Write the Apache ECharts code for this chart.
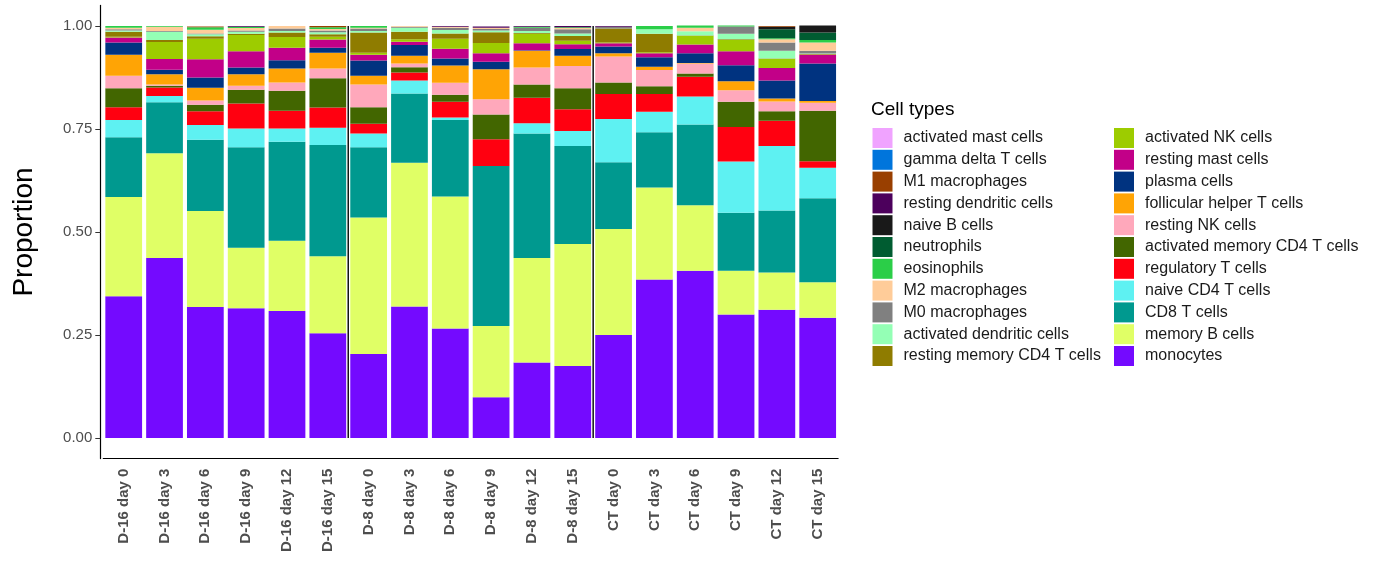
<!DOCTYPE html>
<html>
<head>
<meta charset="utf-8">
<script src="https://cdn.jsdelivr.net/npm/echarts@6/dist/echarts.min.js"></script>
<style>
html,body{margin:0;padding:0;background:#fff;}
#chart{width:1377px;height:564px;}
</style>
</head>
<body>
<div id="chart"></div>
<script>
// ---- categories ----
const samples = ["D-16 day 0","D-16 day 3","D-16 day 6","D-16 day 9","D-16 day 12","D-16 day 15",
  "D-8 day 0","D-8 day 3","D-8 day 6","D-8 day 9","D-8 day 12","D-8 day 15",
  "CT day 0","CT day 3","CT day 6","CT day 9","CT day 12","CT day 15"];

// ---- proportions per cell type (one value per sample) ----
const monocytes      = [0.344,0.437,0.318,0.315,0.308,0.254,0.204,0.319,0.266,0.099,0.183,0.175,0.250,0.385,0.406,0.300,0.311,0.292];
const memoryBCells   = [0.241,0.254,0.233,0.147,0.171,0.187,0.331,0.349,0.320,0.173,0.254,0.296,0.257,0.223,0.159,0.106,0.091,0.086];
const cd8TCells      = [0.145,0.124,0.173,0.244,0.240,0.270,0.171,0.168,0.186,0.388,0.302,0.238,0.162,0.134,0.196,0.141,0.150,0.204];
const naiveCD4TCells = [0.042,0.015,0.036,0.045,0.032,0.042,0.033,0.032,0.006,0.000,0.025,0.036,0.105,0.050,0.068,0.124,0.157,0.074];
const regulatoryTCells = [0.031,0.021,0.033,0.061,0.043,0.049,0.024,0.019,0.038,0.065,0.062,0.053,0.061,0.043,0.048,0.084,0.061,0.016];
const activatedMemoryCD4 = [0.046,0.004,0.016,0.033,0.049,0.071,0.040,0.013,0.017,0.060,0.032,0.051,0.028,0.019,0.008,0.061,0.023,0.122];
const restingNKCells = [0.030,0.003,0.010,0.010,0.020,0.024,0.055,0.009,0.029,0.037,0.041,0.054,0.063,0.039,0.024,0.028,0.024,0.020];
const follicularHelperT = [0.051,0.025,0.031,0.028,0.034,0.038,0.021,0.019,0.042,0.073,0.041,0.025,0.008,0.008,0.001,0.022,0.007,0.004];
const plasmaCells    = [0.030,0.011,0.025,0.016,0.020,0.012,0.037,0.026,0.017,0.018,0.001,0.016,0.016,0.023,0.024,0.039,0.044,0.091];
const restingMastCells = [0.012,0.026,0.044,0.040,0.030,0.020,0.014,0.008,0.024,0.021,0.017,0.012,0.008,0.010,0.021,0.034,0.030,0.021];
const activatedNKCells = [0.002,0.041,0.050,0.039,0.026,0.007,0.005,0.006,0.024,0.025,0.023,0.008,0.002,0.002,0.021,0.027,0.022,0.001];
const restingMemoryCD4 = [0.012,0.005,0.006,0.003,0.011,0.006,0.049,0.018,0.013,0.026,0.002,0.012,0.034,0.045,0.001,0.002,0.001,0.001];
const activatedDendritic = [0.003,0.020,0.005,0.005,0.004,0.005,0.004,0.010,0.008,0.004,0.005,0.006,0.000,0.011,0.010,0.013,0.019,0.001];
const m0Macrophages  = [0.003,0.002,0.002,0.003,0.006,0.004,0.006,0.002,0.006,0.004,0.008,0.010,0.004,0.000,0.000,0.018,0.020,0.007];
const m2Macrophages  = [0.004,0.010,0.009,0.006,0.006,0.004,0.002,0.002,0.002,0.003,0.000,0.003,0.000,0.000,0.009,0.000,0.008,0.020];
const eosinophils    = [0.004,0.002,0.006,0.003,0.000,0.004,0.004,0.000,0.000,0.000,0.002,0.002,0.000,0.008,0.005,0.002,0.002,0.006];
const neutrophils    = [0,0,0,0,0,0,0,0,0,0,0,0,0,0,0,0,0.022,0.018];
const naiveBCells    = [0,0,0,0,0,0,0,0,0,0,0,0,0,0,0,0,0.006,0.017];
const restingDendritic = [0,0,0,0.002,0,0,0,0,0.002,0.003,0.002,0.003,0.002,0,0,0,0,0];
const m1Macrophages  = [0,0,0.002,0,0,0.003,0,0,0,0,0,0,0,0,0,0,0.002,0];
const gammaDeltaTCells = [0,0,0,0,0,0,0,0,0,0,0,0,0,0,0,0,0,0];
const activatedMastCells = [0,0,0,0,0,0,0,0,0,0,0,0,0,0,0,0,0,0];

// ---- legend names (legend order) ----
const legendCol1 = ["activated mast cells","gamma delta T cells","M1 macrophages","resting dendritic cells",
  "naive B cells","neutrophils","eosinophils","M2 macrophages","M0 macrophages",
  "activated dendritic cells","resting memory CD4 T cells"];
const legendCol2 = ["activated NK cells","resting mast cells","plasma cells","follicular helper T cells",
  "resting NK cells","activated memory CD4 T cells","regulatory T cells","naive CD4 T cells",
  "CD8 T cells","memory B cells","monocytes"];
const legendValues = [activatedMastCells,gammaDeltaTCells,m1Macrophages,restingDendritic,naiveBCells,
  neutrophils,eosinophils,m2Macrophages,m0Macrophages,activatedDendritic,restingMemoryCD4,
  activatedNKCells,restingMastCells,plasmaCells,follicularHelperT,restingNKCells,activatedMemoryCD4,
  regulatoryTCells,naiveCD4TCells,cd8TCells,memoryBCells,monocytes];
const palette = ["#F0A3FF","#0075DC","#993F00","#4C005C","#191919","#005C31","#2BCE48","#FFCC99",
  "#808080","#94FFB5","#8F7C00","#9DCC00","#C20088","#003380","#FFA405","#FFA8BB","#426600",
  "#FF0010","#5EF1F2","#00998F","#E0FF66","#740AFF"];

// group separators (between sample groups, in category units)
const separators = [5.5, 11.5];
const yTicks = [0, 0.25, 0.5, 0.75, 1];

const allNames = legendCol1.concat(legendCol2);
const series = [];
for (let k = allNames.length - 1; k >= 0; k--) {
  series.push({
    name: allNames[k], type: 'bar', stack: 'total', barWidth: '90%',
    data: legendValues[k],
    itemStyle: {color: palette[k], borderWidth: 0},
    emphasis: {disabled: true}
  });
}
separators.forEach(function (s) {
  series.push({
    type: 'line', xAxisIndex: 1, yAxisIndex: 0, z: 5,
    data: [[s, 0], [s, 1]], symbol: 'none', silent: true,
    lineStyle: {color: '#111', width: 1.5}
  });
});

const FONT = 'Liberation Sans, Arial, sans-serif';
const legendBase = {
  orient: 'vertical', top: 128, padding: 0, itemWidth: 20, itemHeight: 20, itemGap: 1.8,
  icon: 'rect', selectedMode: false,
  itemStyle: {borderWidth: 0},
  textStyle: {fontFamily: FONT, fontSize: 16, color: '#1a1a1a', padding: [0,0,0,6], lineHeight: 20}
};

const chart = echarts.init(document.getElementById('chart'), null, {renderer: 'canvas'});
chart.setOption({
  animation: false,
  backgroundColor: '#ffffff',
  title: {text: 'Cell types', left: 871, top: 100, padding: 0,
    textStyle: {fontFamily: FONT, fontSize: 19, fontWeight: 'normal', color: '#000'}},
  legend: [
    Object.assign({}, legendBase, {left: 872.5, data: legendCol1}),
    Object.assign({}, legendBase, {left: 1114, data: legendCol2})
  ],
  grid: {left: 103.3, right: 538.9, top: 5.4, bottom: 105.4, containLabel: false},
  xAxis: [{
    type: 'category', data: samples,
    axisLine: {onZero: false, lineStyle: {color: '#000', width: 1.2}},
    axisTick: {alignWithLabel: true, length: 5, lineStyle: {color: '#333'}},
    axisLabel: {rotate: 90, interval: 0, margin: 10, fontFamily: FONT, fontSize: 15,
      fontWeight: 'bold', color: '#4d4d4d'}
  }, {
    type: 'value', min: -0.5, max: 17.5, show: false
  }],
  yAxis: {
    type: 'value', min: -0.05, max: 1.05, offset: 3,
    name: 'Proportion', nameLocation: 'middle', nameGap: 62, nameRotate: 90,
    nameTextStyle: {fontFamily: FONT, fontSize: 28, color: '#000'},
    axisLine: {show: true, onZero: false, lineStyle: {color: '#000', width: 1.2}},
    axisTick: {show: true, length: 5, customValues: yTicks, lineStyle: {color: '#333'}},
    axisLabel: {customValues: yTicks, margin: 8, fontFamily: FONT, fontSize: 15, color: '#4d4d4d',
      formatter: function (v) { return v.toFixed(2); }},
    splitLine: {show: false}
  },
  series: series
});
</script>
</body>
</html>
